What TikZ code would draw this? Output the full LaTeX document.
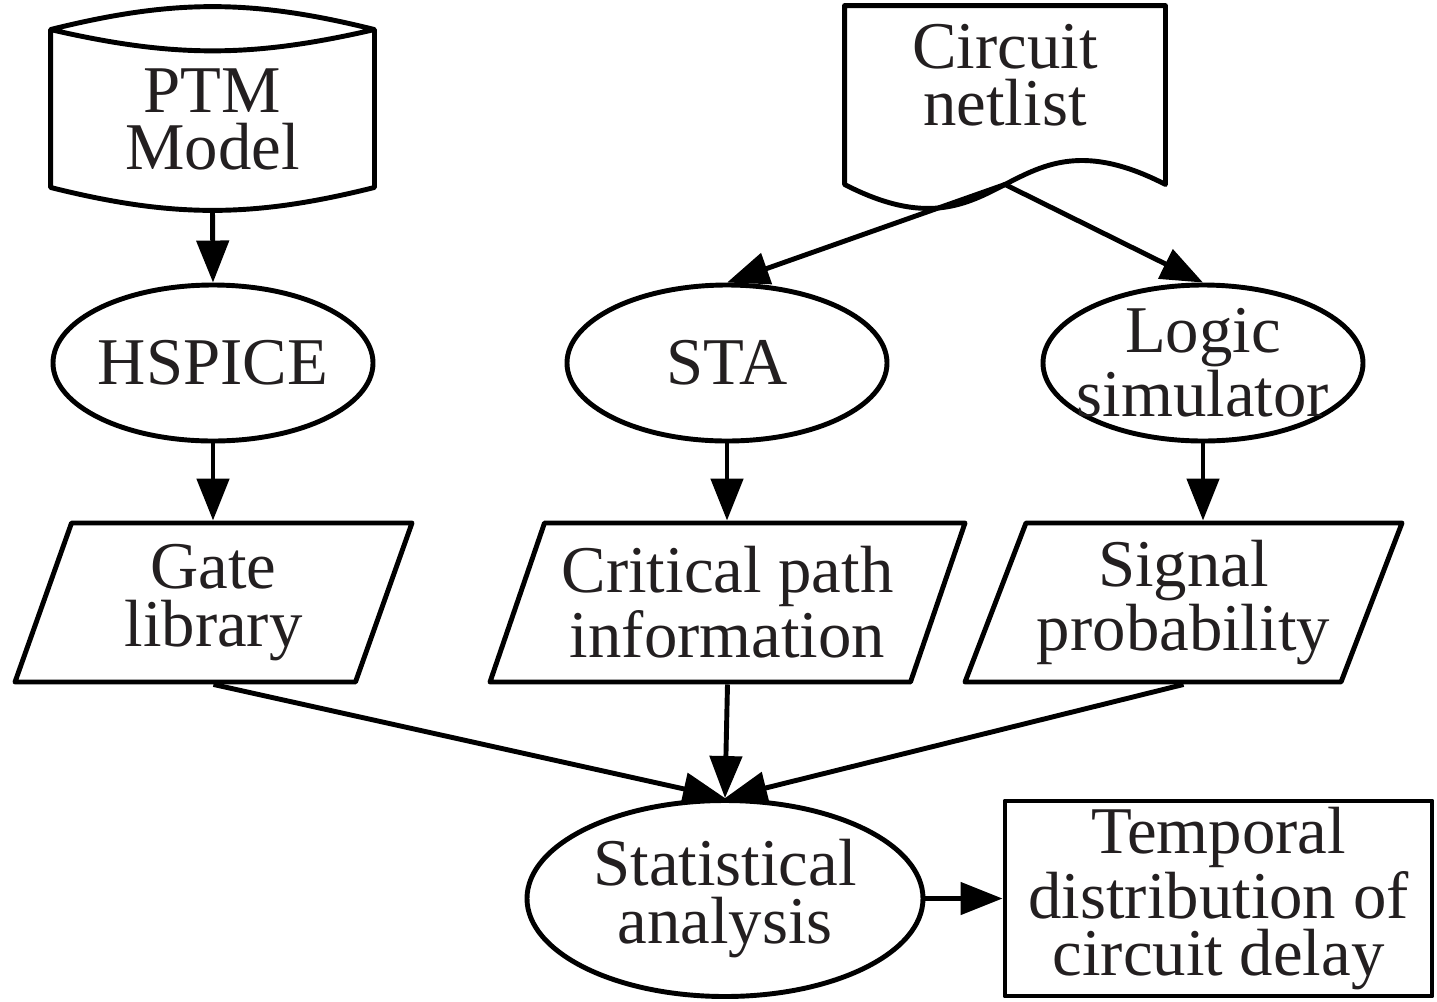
\documentclass[tikz,border=0pt]{standalone}
\usepackage{fontspec}
\setmainfont{Liberation Serif}
\usetikzlibrary{arrows.meta,shapes.geometric}
\definecolor{txtgray}{RGB}{35,31,32}

\begin{document}
\begin{tikzpicture}[line width=1.4pt, line join=round,
  every node/.style={font=\fontsize{19}{16.3}\selectfont, text=txtgray, align=center},
  procnode/.style={draw, ellipse, inner sep=-2mm, minimum width=3.2cm, minimum height=1.56cm},
  datanode/.style={draw, trapezium, trapezium left angle=64, trapezium right angle=116,
    trapezium stretches body, inner xsep=-1mm, inner ysep=0pt, minimum height=1.59cm},
  arr/.style={-{Triangle[length=4.2mm,width=3.2mm]}}]
\useasboundingbox (0,0) rectangle (14.37,-10.01);
% Inputs
\node[minimum width=3.19cm, minimum height=1.75cm, inner sep=0pt] (ptm) at (2.125,-1.195) {PTM\\Model};
\draw (ptm.north west) -- ([yshift=2.2mm]ptm.south west) to[bend right=14] ([yshift=2.2mm]ptm.south east)
  -- (ptm.north east) to[bend right=14] (ptm.north west) to[bend right=13] (ptm.north east);
\node[minimum width=3.16cm, minimum height=1.35cm, inner sep=0pt] (netlist) at (10.05,-0.755) {Circuit\\netlist};
\draw (netlist.north west) -- ([yshift=-3.9mm]netlist.south west)
  .. controls +(1.61,-0.83) and +(-1.61,0.83) .. ([yshift=-3.9mm]netlist.south east)
  -- (netlist.north east) -- cycle;
\coordinate (nlfoot) at ([yshift=-3.9mm]netlist.south);
% Tools
\node[procnode] (hspice) at (2.13,-3.63) {HSPICE};
\node[procnode] (sta) at (7.27,-3.63) {STA};
\node[procnode] (logic) at (12.03,-3.63) {Logic\\simulator};
% Intermediate data
\node[datanode, minimum width=3.97cm] (gate) at (2.135,-6.025) {Gate\\library};
\node[datanode, minimum width=4.75cm] (crit) at (7.275,-6.025) {Critical path\\information};
\node[datanode, minimum width=4.37cm] (sigprob) at (11.835,-6.025) {Signal\\probability};
% Analysis and result
\node[procnode, minimum width=3.96cm, minimum height=1.96cm] (stat) at (7.25,-8.985) {Statistical\\analysis};
\node[draw, minimum width=4.27cm, minimum height=1.95cm, inner sep=0pt] (delay) at (12.185,-8.985)
  {Temporal\\distribution of\\circuit delay};
% Flow
\draw[arr] (ptm.south) -- (hspice.north);
\draw[arr] (nlfoot) -- (sta.north);
\draw[arr] (nlfoot) -- (logic.north);
\draw[arr] (hspice.south) -- (hspice.south |- gate.90);
\draw[arr] (sta.south) -- (sta.south |- crit.90);
\draw[arr] (logic.south) -- (logic.south |- sigprob.90);
\draw[arr] (gate.270) -- (stat.north);
\draw[arr] (crit.270) -- (stat.north);
\draw[arr] (sigprob.270) -- (stat.north);
\draw[arr] (stat.east) -- (delay.west);
\end{tikzpicture}
\end{document}
